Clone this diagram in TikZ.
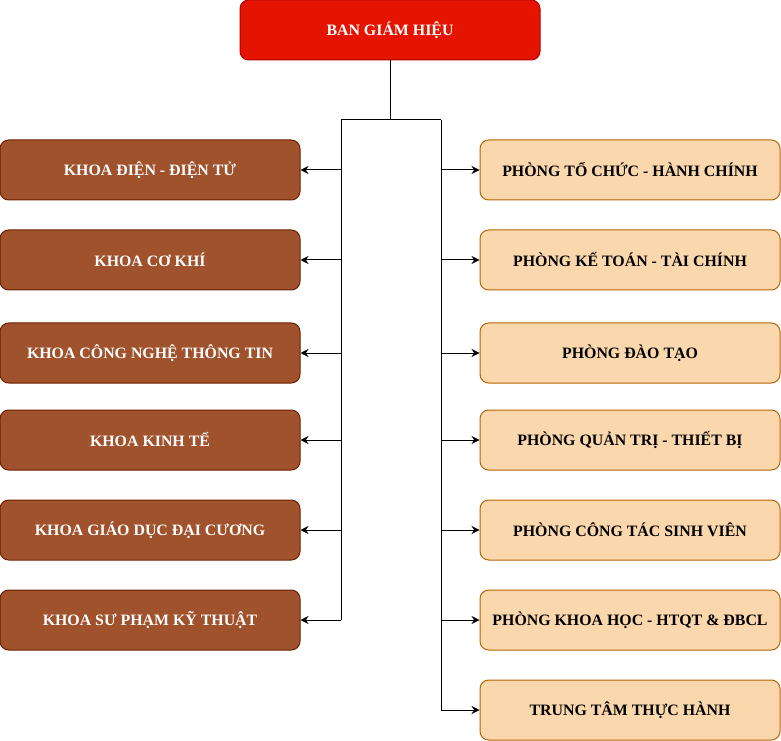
\documentclass[tikz,border=0pt]{standalone}
\usepackage{fontspec}
\setmainfont{Liberation Serif}
\usetikzlibrary{arrows.meta}
\definecolor{topfill}{HTML}{E51400}
\definecolor{topline}{HTML}{B20000}
\definecolor{lfill}{HTML}{A0522D}
\definecolor{lline}{HTML}{6D1F00}
\definecolor{rfill}{HTML}{FAD7AC}
\definecolor{rline}{HTML}{B46504}
\tikzset{
  box/.style={rounded corners=6.5pt, minimum width=225pt, minimum height=45pt, inner sep=0pt, line width=0.75pt, font=\fontsize{11.9pt}{13pt}\selectfont\bfseries, align=center},
  topbox/.style={box, fill=topfill, draw=topline, text=white},
  lbox/.style={box, fill=lfill, draw=lline, text=white},
  rbox/.style={box, fill=rfill, draw=rline, text=black},
  conn/.style={line width=0.75pt, draw=black},
  arr/.style={conn, -{Stealth[length=6pt,width=6pt]}}
}
\begin{document}
\begin{tikzpicture}[x=0.75pt,y=-0.75pt]
\useasboundingbox (0,0) rectangle (781,741);
\node[topbox] (top) at (390,30) {BAN GIÁM HIỆU};
\node[lbox] (L1) at (150,170) {KHOA ĐIỆN - ĐIỆN TỬ};
\node[lbox] (L2) at (150,260) {KHOA CƠ KHÍ};
\node[lbox] (L3) at (150,353) {KHOA CÔNG NGHỆ THÔNG TIN};
\node[lbox] (L4) at (150,440) {KHOA KINH TẾ};
\node[lbox] (L5) at (150,530) {KHOA GIÁO DỤC ĐẠI CƯƠNG};
\node[lbox] (L6) at (150,620) {KHOA SƯ PHẠM KỸ THUẬT};
\node[rbox] (R1) at (630,170) {PHÒNG TỔ CHỨC - HÀNH CHÍNH};
\node[rbox] (R2) at (630,260) {PHÒNG KẾ TOÁN - TÀI CHÍNH};
\node[rbox] (R3) at (630,353) {PHÒNG ĐÀO TẠO};
\node[rbox] (R4) at (630,440) {PHÒNG QUẢN TRỊ - THIẾT BỊ};
\node[rbox] (R5) at (630,530) {PHÒNG CÔNG TÁC SINH VIÊN};
\node[rbox] (R6) at (630,620) {PHÒNG KHOA HỌC - HTQT \& ĐBCL};
\node[rbox] (R7) at (630,710) {TRUNG TÂM THỰC HÀNH};
\coordinate (jt) at (390,120);
\coordinate (jL) at (341,120);
\coordinate (jR) at (441,120);
\draw[conn] (top.south) -- (jt);
\draw[conn] (jL) -- (jR);
\draw[conn] (jL) -- (jL |- L6.east);
\draw[conn] (jR) -- (jR |- R7.west);
\foreach \n in {L1,L2,L3,L4,L5,L6} \draw[arr] (jL |- \n.east) -- (\n.east);
\foreach \n in {R1,R2,R3,R4,R5,R6,R7} \draw[arr] (jR |- \n.west) -- (\n.west);
\end{tikzpicture}
\end{document}
